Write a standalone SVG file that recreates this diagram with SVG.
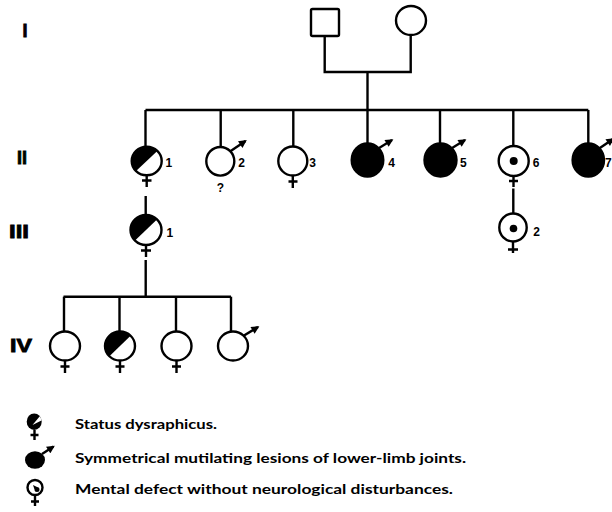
<svg xmlns="http://www.w3.org/2000/svg" width="612" height="512" viewBox="0 0 612 512">
<defs>
<style>
.ln{stroke:#000;stroke-width:2.4;fill:none;stroke-linecap:butt}
.ind{stroke:#000;stroke-width:2.4;fill:#fff}
.aff{stroke:#000;stroke-width:2.4;fill:#000}
.blk{fill:#000;stroke:none}
.out{stroke:#000;stroke-width:2.4;fill:none}
.num{font-family:"Liberation Sans",Arial,sans-serif;font-weight:bold;font-size:12px;fill:#000}
.gen{font-family:"Liberation Sans",Arial,sans-serif;font-weight:bold;font-size:18px;fill:#000;stroke:#000;stroke-width:0.8}
.leg{font-family:Lato,"Open Sans","Liberation Sans",sans-serif;font-weight:bold;font-size:14px;fill:#000}
.arr{stroke:#000;stroke-width:2.4;fill:none;marker-end:url(#male)}
</style>
<marker id="male" viewBox="0 0 10 10" refX="8" refY="5" markerWidth="9" markerHeight="8" orient="auto" markerUnits="userSpaceOnUse">
<path d="M0,0 L10,5 L0,10 z" fill="#000"/>
</marker>
</defs>
<rect width="612" height="512" fill="#fff"/>

<!-- generation labels -->
<g id="gen-labels">
<text class="gen" x="25" y="37" text-anchor="middle">I</text>
<text class="gen" x="22" y="164" text-anchor="middle" font-size="15" textLength="10" lengthAdjust="spacingAndGlyphs">II</text>
<text class="gen" x="19" y="238" text-anchor="middle" textLength="20" lengthAdjust="spacingAndGlyphs">III</text>
<text class="gen" x="21" y="352" text-anchor="middle" font-size="17" textLength="22" lengthAdjust="spacingAndGlyphs">IV</text>
</g>

<!-- connectors -->
<g id="connectors" class="ln">
<path d="M324.7,36 V72 H410.7 V35"/>
<path d="M367.5,72 V143.5"/>
<path d="M145.5,110 H588.3"/>
<path d="M145.5,110 V147"/>
<path d="M220.7,110 V147"/>
<path d="M293.3,110 V146.5"/>
<path d="M440,110 V143.5"/>
<path d="M513.3,110 V146"/>
<path d="M588.3,110 V143.5"/>
<path d="M145.7,196 V215"/>
<path d="M513.3,188.5 V213.5"/>
<path d="M145.7,260 V296.7"/>
<path d="M63.5,296.7 H231"/>
<path d="M64,296.7 V331.5"/>
<path d="M119.5,296.7 V331.5"/>
<path d="M176,296.7 V331.5"/>
<path d="M231,296.7 V331.5"/>
</g>

<!-- Generation I -->
<g id="I-1"><rect x="311" y="9" width="28" height="27" rx="1.5" class="ind" stroke-width="2"/></g>
<g id="I-2"><ellipse cx="411" cy="20.5" rx="15" ry="14.5" class="ind" stroke-width="2"/></g>

<!-- Generation II -->
<g id="II-1">
<ellipse cx="146.7" cy="161" rx="15" ry="14.3" fill="#fff"/>
<path class="blk" d="M136.1,171.1 L157.3,150.9 A15 14.3 0 0 0 136.1,171.1 Z"/>
<ellipse cx="146.7" cy="161" rx="15" ry="14.3" class="out"/>
<path class="ln" d="M146.7,175.3 V187 M142,180.5 H151.5"/>
<text class="num" x="165.5" y="166.5">1</text>
</g>
<g id="II-2">
<ellipse cx="220.3" cy="161.3" rx="14" ry="14.3" class="ind"/>
<path class="arr" d="M230,151.5 L245.5,141"/>
<text class="num" x="238.3" y="166.5">2</text>
<text class="num" x="220.5" y="192" text-anchor="middle" font-size="11">?</text>
</g>
<g id="II-3">
<ellipse cx="292.8" cy="161" rx="14.5" ry="14.5" class="ind"/>
<path class="ln" d="M292.8,175.5 V188 M288.5,181.5 H297.5" stroke-width="2"/>
<text class="num" x="309.3" y="166.5">3</text>
</g>
<g id="II-4">
<ellipse cx="367.5" cy="160" rx="15.8" ry="16.5" class="aff"/>
<path class="arr" d="M378.7,148.2 L392,140"/>
<text class="num" x="388.3" y="166.5">4</text>
</g>
<g id="II-5">
<ellipse cx="440.5" cy="160" rx="16" ry="16.5" class="aff"/>
<path class="arr" d="M451.7,148.2 L465,140"/>
<text class="num" x="460" y="166.5">5</text>
</g>
<g id="II-6">
<ellipse cx="513.7" cy="161" rx="15" ry="15" class="ind"/>
<circle cx="513.7" cy="161" r="4" fill="#000"/>
<path class="ln" d="M513.5,176 V187 M509,181 H518"/>
<text class="num" x="532.7" y="166.5">6</text>
</g>
<g id="II-7">
<ellipse cx="588.3" cy="160" rx="15.7" ry="16.5" class="aff"/>
<path class="arr" d="M599.5,148.2 L613,139"/>
<text class="num" x="605" y="166.5">7</text>
</g>

<!-- Generation III -->
<g id="III-1">
<ellipse cx="146" cy="230" rx="15.5" ry="15" fill="#fff"/>
<path class="blk" d="M135.04,240.6 L156.96,219.4 A15.5 15 0 0 0 135.04,240.6 Z"/>
<ellipse cx="146" cy="230" rx="15.5" ry="15" class="out"/>
<path class="ln" d="M146,245 V257 M141,250.5 H151"/>
<text class="num" x="166.5" y="236.5">1</text>
</g>
<g id="III-2">
<ellipse cx="513" cy="227.5" rx="13.7" ry="14" class="ind"/>
<circle cx="513.5" cy="228.5" r="3.8" fill="#000"/>
<path class="ln" d="M513,241.5 V253 M508,249.5 H518"/>
<text class="num" x="533.3" y="236">2</text>
</g>

<!-- Generation IV -->
<g id="IV-1">
<ellipse cx="65" cy="346" rx="15" ry="14.5" class="ind"/>
<path class="ln" d="M65,360.5 V373 M60.5,366.5 H69.5"/>
</g>
<g id="IV-2">
<ellipse cx="120" cy="346" rx="15" ry="14.5" fill="#fff"/>
<path class="blk" d="M109.4,356.25 L130.6,335.75 A15 14.5 0 0 0 109.4,356.25 Z"/>
<ellipse cx="120" cy="346" rx="15" ry="14.5" class="out"/>
<path class="ln" d="M120,360.5 V373 M115.5,366.5 H124.5"/>
</g>
<g id="IV-3">
<ellipse cx="176.5" cy="346" rx="15" ry="14.5" class="ind"/>
<path class="ln" d="M176.5,360.5 V373 M172,366.5 H181"/>
</g>
<g id="IV-4">
<ellipse cx="233" cy="346" rx="15" ry="14.5" class="ind"/>
<path class="arr" d="M243.6,335.8 L258,327"/>
</g>

<!-- Legend -->
<g id="legend-1">
<ellipse cx="34.2" cy="421.7" rx="7.5" ry="8.3" fill="#000"/>
<path d="M32.5,425 L39.8,416.3 A7.5 8.3 0 0 1 41.4,420.5 Z" fill="#fff"/>
<path class="ln" d="M34.5,430 V440 M30.5,435 H38.5" stroke-width="2"/>
<text class="leg" x="75" y="429" textLength="142" lengthAdjust="spacingAndGlyphs">Status dysraphicus.</text>
</g>
<g id="legend-2">
<ellipse cx="35" cy="460" rx="10" ry="8.7" fill="#000"/>
<path class="arr" d="M42,454 L53.5,446.5" stroke-width="2"/>
<text class="leg" x="75" y="463" textLength="391" lengthAdjust="spacingAndGlyphs">Symmetrical mutilating lesions of lower-limb joints.</text>
</g>
<g id="legend-3">
<ellipse cx="35" cy="487.5" rx="7.5" ry="7.5" class="ind" stroke-width="2"/>
<path class="blk" d="M33,485 L37,487 A2.5 2.5 0 1 1 34.5,489.5 Z"/>
<path class="ln" d="M35,495 V506 M31,501.5 H39" stroke-width="2"/>
<text class="leg" x="75" y="494" textLength="378" lengthAdjust="spacingAndGlyphs">Mental defect without neurological disturbances.</text>
</g>
</svg>
